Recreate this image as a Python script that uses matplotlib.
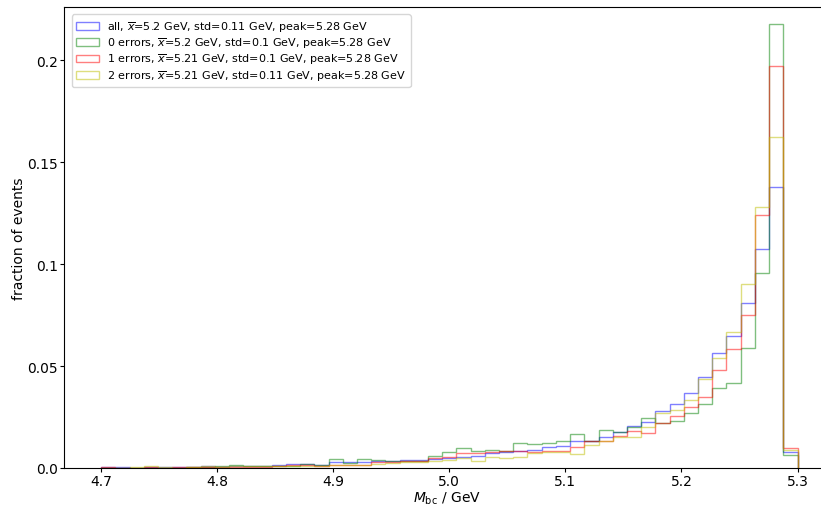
import numpy as np
import matplotlib
matplotlib.use("Agg")
import matplotlib.pyplot as plt

# Binning: 49 bins between 4.7 and 5.3 GeV
bin_edges = np.linspace(4.7, 5.3, 50)

# fraction of events per bin
frac_all = [0.0003, 0.0003, 0.0002, 0.0003, 0.0003, 0.0003, 0.0004, 0.0008, 0.0007, 0.0008,
            0.0008, 0.0011, 0.0015, 0.0020, 0.0018, 0.0015, 0.0028, 0.0030, 0.0028, 0.0033,
            0.0036, 0.0037, 0.0040, 0.0045, 0.0050, 0.0056, 0.0060, 0.0072, 0.0080, 0.0082,
            0.0090, 0.0101, 0.0106, 0.0131, 0.0134, 0.0152, 0.0175, 0.0207, 0.0227, 0.0281,
            0.0314, 0.0366, 0.0448, 0.0562, 0.0645, 0.0807, 0.1074, 0.1379, 0.0077]
frac_0err = [0.0002, 0.0001, 0.0001, 0.0002, 0.0002, 0.0002, 0.0003, 0.0005, 0.0008, 0.0015,
             0.0010, 0.0008, 0.0012, 0.0012, 0.0020, 0.0015, 0.0043, 0.0025, 0.0043, 0.0038,
             0.0036, 0.0036, 0.0036, 0.0060, 0.0077, 0.0096, 0.0085, 0.0090, 0.0082, 0.0123,
             0.0116, 0.0124, 0.0134, 0.0165, 0.0131, 0.0185, 0.0178, 0.0200, 0.0243, 0.0219,
             0.0232, 0.0270, 0.0314, 0.0391, 0.0417, 0.0587, 0.0954, 0.2176, 0.0064]
frac_1err = [0.0004, 0.0002, 0.0002, 0.0003, 0.0002, 0.0003, 0.0004, 0.0005, 0.0007, 0.0006,
             0.0003, 0.0005, 0.0008, 0.0013, 0.0016, 0.0012, 0.0016, 0.0016, 0.0016, 0.0027,
             0.0030, 0.0035, 0.0033, 0.0047, 0.0052, 0.0072, 0.0072, 0.0080, 0.0085, 0.0083,
             0.0077, 0.0085, 0.0085, 0.0103, 0.0130, 0.0131, 0.0158, 0.0183, 0.0170, 0.0219,
             0.0257, 0.0297, 0.0346, 0.0482, 0.0583, 0.0752, 0.1240, 0.1969, 0.0099]
frac_2err = [0.0002, 0.0002, 0.0003, 0.0008, 0.0003, 0.0002, 0.0003, 0.0010, 0.0006, 0.0010,
             0.0010, 0.0010, 0.0008, 0.0008, 0.0012, 0.0012, 0.0014, 0.0016, 0.0016, 0.0022,
             0.0025, 0.0030, 0.0028, 0.0036, 0.0041, 0.0047, 0.0033, 0.0052, 0.0047, 0.0054,
             0.0075, 0.0077, 0.0077, 0.0067, 0.0113, 0.0130, 0.0150, 0.0154, 0.0199, 0.0268,
             0.0284, 0.0335, 0.0436, 0.0538, 0.0665, 0.0902, 0.1281, 0.1624, 0.0090]

labels = [r"all, $\overline{x}$=5.2 GeV, std=0.11 GeV, peak=5.28 GeV",
          r"0 errors, $\overline{x}$=5.2 GeV, std=0.1 GeV, peak=5.28 GeV",
          r"1 errors, $\overline{x}$=5.21 GeV, std=0.1 GeV, peak=5.28 GeV",
          r"2 errors, $\overline{x}$=5.21 GeV, std=0.11 GeV, peak=5.28 GeV"]
colors = ["b", "g", "r", "y"]

xticks = [4.7, 4.8, 4.9, 5.0, 5.1, 5.2, 5.3]
yticks = [0.0, 0.05, 0.1, 0.15, 0.2]
ytick_labels = ["0.0", "0.05", "0.1", "0.15", "0.2"]

## SET UP PLOT
fig = plt.figure(figsize=(8.21, 5.10), dpi=100)
ax = fig.add_axes([64/821, 41/510, 766/821, 461/510])

centers = 0.5 * (bin_edges[:-1] + bin_edges[1:])
for vals, col, lab in zip([frac_all, frac_0err, frac_1err, frac_2err], colors, labels):
    ax.hist(centers, bins=bin_edges, weights=vals, histtype="step",
            color=col, alpha=0.5, linewidth=1, label=lab)

ax.set_xlim(4.668, 5.328)
ax.set_ylim(0, 0.226)
ax.set_xticks(xticks)
ax.set_xticklabels(["%.1f" % t for t in xticks])
ax.set_yticks(yticks)
ax.set_yticklabels(ytick_labels)
ax.tick_params(length=3, pad=1.5)
ax.set_xlabel(r"$M_{\rm bc}$ / GeV", labelpad=1)
ax.set_ylabel("fraction of events", labelpad=1)
ax.legend(loc="upper left", fontsize=8, labelspacing=0.15,
          bbox_to_anchor=(0.003, 0.996))

plt.savefig("out.png", dpi=100)
plt.close()
